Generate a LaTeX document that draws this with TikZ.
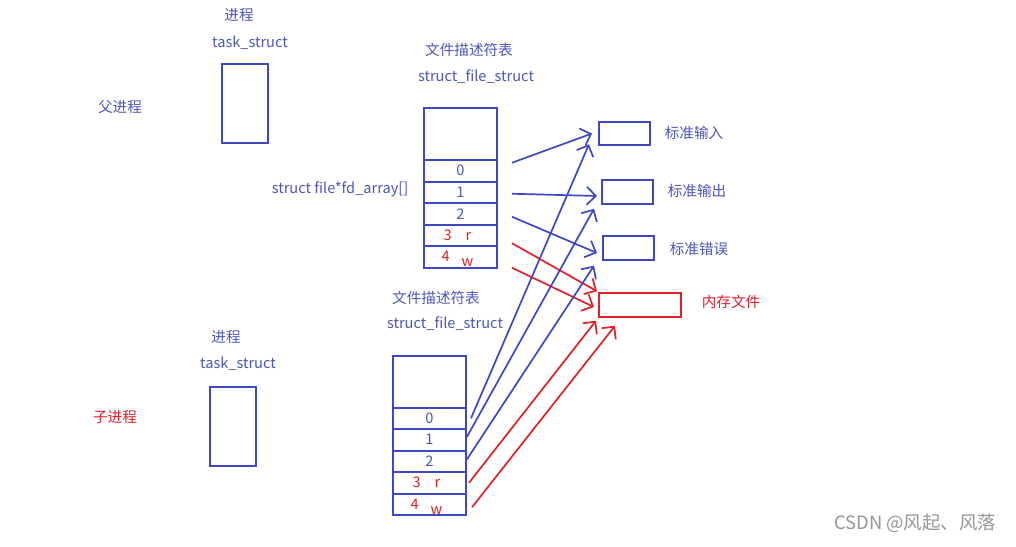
\documentclass[tikz,border=0pt]{standalone}
\usepackage{fontspec}
\setmainfont{Noto Sans CJK SC}
\usepackage{xcolor}
\usepackage{tikz}
\usetikzlibrary{arrows.meta, positioning, calc}
\definecolor{Lan}   {RGB}{62, 72, 196}
\definecolor{LanZi} {RGB}{78, 86, 188}
\definecolor{Hong}  {RGB}{226, 32, 40}
\definecolor{Hui}   {RGB}{150,150,150}

\begin{document}
\begin{tikzpicture}[
      x=0.5pt,y=-0.5pt,
      wz/.style   ={text=LanZi,inner sep=0pt,font=\fontsize{7.3}{8}\selectfont},
      wzr/.style  ={wz,text=Hong},
      tsk/.style  ={draw=Lan,line width=1pt,minimum width=23pt,minimum height=39.5pt,inner sep=0pt},
      tbox/.style ={draw=Lan,line width=1pt,minimum width=36.5pt,minimum height=26pt,
                    inner sep=0pt,outer sep=0pt},
      slot/.style ={draw=Lan,line width=1pt,minimum width=36.5pt,minimum height=10.75pt,
                    inner sep=0pt,outer sep=0pt,text=LanZi,font=\fontsize{7.3}{8}\selectfont},
      fbox/.style ={draw=Lan,line width=1pt,minimum width=25.5pt,minimum height=11.75pt,inner sep=0pt},
      fl/.style   ={-{Straight Barb[length=4.5pt,width=9pt]},Lan,line width=0.85pt},
      flr/.style  ={fl,Hong}]
      \useasboundingbox[fill=white] (0,0) rectangle (1016,546);
      % parent process
      \node[wz]  (pjin)  at (239,15) {进程};
      \node[wz]  (ptask) at (250,43) {task\_struct};
      \node[tsk] (pts)   at (245,103.5) {};
      \node[wz]  (fu)    at (120,107) {父进程};
      \node[wz]  (pwj)   at (469,50) {文件描述符表};
      \node[wz]  (psf)   at (476,77) {struct\_file\_struct};
      \node[wz]  (fdarr) at (340,189) {struct file*fd\_array[]};
      \node[tbox] (ptop) at (460.5,134) {};
      \node[slot,below=0pt of ptop] (p0) {0};
      \node[slot,below=0pt of p0] (p1) {1};
      \node[slot,below=0pt of p1] (p2) {2};
      \node[slot,below=0pt of p2,text=Hong] (p3) {\hspace{-3pt}3\hspace{7pt}r};
      \node[slot,below=0pt of p3,text=Hong] (p4) {\hspace{-3pt}4\hspace{6pt}\raisebox{-2.5pt}[0pt][0pt]{w}};
      % child process
      \node[wz]  (cjin)  at (226,337) {进程};
      \node[wz]  (ctask) at (238,364) {task\_struct};
      \node[tsk] (cts)   at (233,426) {};
      \node[wzr] (zi)    at (115,417) {子进程};
      \node[wz]  (cwj)   at (436,298) {文件描述符表};
      \node[wz]  (csf)   at (445,324) {struct\_file\_struct};
      \node[tbox] (ctop) at (429.5,381.5) {};
      \node[slot,below=0pt of ctop] (c0) {0};
      \node[slot,below=0pt of c0] (c1) {1};
      \node[slot,below=0pt of c1] (c2) {2};
      \node[slot,below=0pt of c2,text=Hong] (c3) {\hspace{-3pt}3\hspace{7pt}r};
      \node[slot,below=0pt of c3,text=Hong] (c4) {\hspace{-3pt}4\hspace{6pt}\raisebox{-2.5pt}[0pt][0pt]{w}};
      % files
      \node[fbox] (stdin)  at (624.5,133.5) {};
      \node[fbox] (stdout) at (627.5,192) {};
      \node[fbox] (stderr) at (628.5,248) {};
      \node[fbox,draw=Hong,minimum width=41pt] (mem) at (640,305) {};
      \node[wz]  (lin)  at (694,133) {标准输入};
      \node[wz]  (lout) at (697,191) {标准输出};
      \node[wz]  (lerr) at (699,249) {标准错误};
      \node[wzr] (lmem) at (731,302) {内存文件};
      % parent fds
      \draw[fl]  ([xshift=7.5pt,yshift=4pt]p0.east)    -- ([xshift=-3pt]stdin.west);
      \draw[fl]  ([xshift=7.5pt,yshift=-0.75pt]p1.east) -- ([xshift=-2pt,yshift=-2pt]stdout.west);
      \draw[fl]  ([xshift=7.5pt,yshift=-1.5pt]p2.east) -- ([xshift=-2.5pt,yshift=-2.5pt]stderr.west);
      \draw[flr] ([xshift=7.5pt,yshift=-4pt]p3.east)   -- ([xshift=-0.5pt,yshift=0.5pt]mem.north west);
      \draw[flr] ([xshift=7.5pt,yshift=-5.5pt]p4.east) -- ([xshift=-2pt,yshift=-1pt]mem.west);
      % child fds
      \draw[fl]  ([xshift=2.5pt]c0.east)               -- ([xshift=-4.5pt,yshift=1pt]stdin.south west);
      \draw[fl]  ([xshift=0.5pt,yshift=1.5pt]c1.east)  -- ([xshift=-3.5pt,yshift=-2pt]stdout.south west);
      \draw[fl]  ([xshift=0.5pt,yshift=1pt]c2.east)    -- ([xshift=-4pt,yshift=-2.5pt]stderr.south west);
      \draw[flr] ([xshift=1.5pt]c3.east)               -- ([xshift=-1pt,yshift=-1.5pt]mem.south west);
      \draw[flr] ([xshift=3pt,yshift=-1.5pt]c4.east)   -- ([xshift=8.5pt,yshift=-4pt]mem.south west);
      \node[text=Hui,inner sep=0pt,font=\fontsize{9.2}{10}\selectfont] (sy) at (915,523) {CSDN @风起、风落};
    \end{tikzpicture}
\end{document}
